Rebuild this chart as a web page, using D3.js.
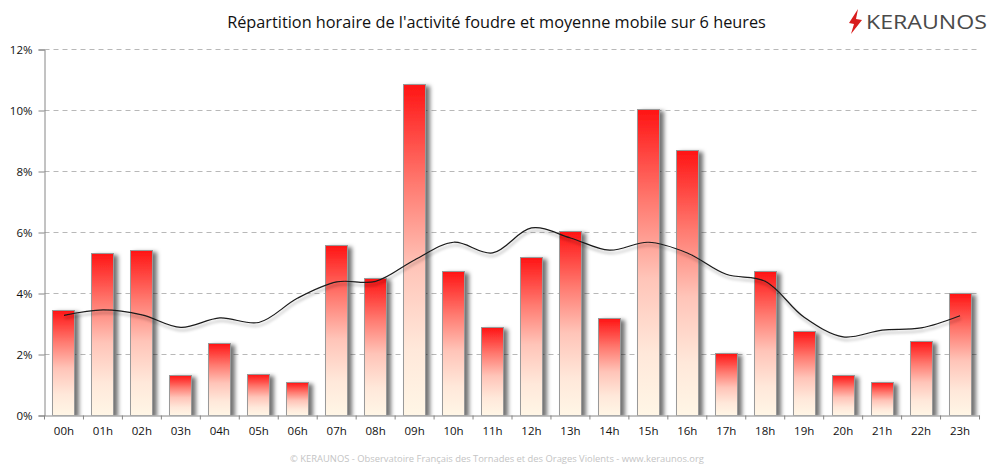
<!DOCTYPE html>
<html>
<head>
<meta charset="utf-8">
<script src="https://cdn.jsdelivr.net/npm/d3@7"></script>
<style>
html,body{margin:0;padding:0;background:#fff;}
svg{display:block;}
text{font-family:"Open Sans",sans-serif;}
</style>
</head>
<body>
<div id="chart"></div>
<script>
var hours=["00h","01h","02h","03h","04h","05h","06h","07h","08h","09h","10h","11h","12h","13h","14h","15h","16h","17h","18h","19h","20h","21h","22h","23h"];
var activity=[3.46,5.33,5.43,1.33,2.38,1.36,1.1,5.59,4.51,10.87,4.74,2.9,5.2,6.05,3.2,10.05,8.7,2.05,4.74,2.77,1.33,1.1,2.44,4.02];
var movingAvg=[3.28,3.46,3.3,2.89,3.2,3.05,3.85,4.38,4.4,5.1,5.68,5.33,6.15,5.82,5.42,5.68,5.33,4.63,4.4,3.22,2.58,2.8,2.87,3.27];
var yTicks=[0,2,4,6,8,10,12];

var width=994,height=471;
var left=44.5,right=979.5,top_=49.5,bottom=415.5;

var svg=d3.select("#chart").append("svg")
	.attr("width",width)
	.attr("height",height);

var defs=svg.append("defs");

var grad=defs.append("linearGradient")
	.attr("id","barGrad")
	.attr("x1",0).attr("y1",0).attr("x2",0).attr("y2",1);
grad.append("stop").attr("offset","0%").attr("stop-color","#ff1414");
grad.append("stop").attr("offset","30%").attr("stop-color","#ff7a70");
grad.append("stop").attr("offset","55%").attr("stop-color","#ffc4b8");
grad.append("stop").attr("offset","80%").attr("stop-color","#ffe8da");
grad.append("stop").attr("offset","100%").attr("stop-color","#fff6e6");

var barShadow=defs.append("filter").attr("id","barShadow")
	.attr("x","-20%").attr("y","-5%").attr("width","160%").attr("height","115%");
barShadow.append("feDropShadow")
	.attr("dx",4).attr("dy",2).attr("stdDeviation",2)
	.attr("flood-color","#000").attr("flood-opacity",0.55);

var lineShadow=defs.append("filter").attr("id","lineShadow")
	.attr("x","-5%").attr("y","-20%").attr("width","110%").attr("height","150%");
lineShadow.append("feDropShadow")
	.attr("dx",1).attr("dy",3).attr("stdDeviation",1.5)
	.attr("flood-color","#000").attr("flood-opacity",0.35);

// the shadows stop at the axis
defs.append("clipPath").attr("id","plotClip")
	.append("rect")
	.attr("x",left).attr("y",0)
	.attr("width",width-left).attr("height",bottom);

var x=d3.scaleBand().domain(hours).range([left,right]);
var y=d3.scaleLinear().domain([0,12]).range([bottom,top_]);

// gridlines
svg.append("g").selectAll("line")
	.data(yTicks.filter(function(d){return d>0;}))
	.enter().append("line")
	.attr("x1",left)
	.attr("x2",right)
	.attr("y1",function(d){return y(d);})
	.attr("y2",function(d){return y(d);})
	.attr("stroke","#b8b8b8")
	.attr("stroke-dasharray","5,4");

// bars
svg.append("g").attr("clip-path","url(#plotClip)").selectAll("rect")
	.data(activity)
	.enter().append("rect")
	.attr("x",function(d,i){return Math.round(x(hours[i])+x.bandwidth()/2-11.5)+0.5;})
	.attr("y",function(d){return Math.round(y(d))+0.5;})
	.attr("width",22)
	.attr("height",function(d){return bottom-Math.round(y(d))-0.5;})
	.attr("fill","url(#barGrad)")
	.attr("stroke","#999")
	.attr("filter","url(#barShadow)");

// axes
var yAxis=d3.axisLeft(y).tickValues(yTicks).tickSize(6).tickPadding(6)
	.tickFormat(function(d){return d+"%";});
var gy=svg.append("g").attr("transform","translate("+left+",0)").call(yAxis);

var xAxis=d3.axisBottom(x).tickSize(0).tickPadding(11);
var gx=svg.append("g").attr("transform","translate(0,"+bottom+")").call(xAxis);
gx.selectAll(".tickmark").data(hours.concat("end")).enter().append("line")
	.attr("class","tickmark")
	.attr("x1",function(d,i){return x.step()*i+left;})
	.attr("x2",function(d,i){return x.step()*i+left;})
	.attr("y1",0).attr("y2",4)
	.attr("stroke","#868686");

[gy,gx].forEach(function(g){
	g.selectAll(".domain").attr("stroke","#868686");
	g.selectAll(".tick line").attr("stroke","#868686");
	g.selectAll("text").attr("font-size",11.5).attr("fill","#111")
		.style("font-family","'Open Sans',sans-serif");
});

// moving average
var line=d3.line()
	.x(function(d,i){return x(hours[i])+x.bandwidth()/2;})
	.y(function(d){return y(d);})
	.curve(d3.curveCatmullRom.alpha(0.5));

svg.append("path")
	.datum(movingAvg)
	.attr("d",line)
	.attr("fill","none")
	.attr("stroke","#1a1a1a")
	.attr("stroke-width",1.2)
	.attr("filter","url(#lineShadow)");

// title
svg.append("text")
	.attr("x",496.5)
	.attr("y",28)
	.attr("text-anchor","middle")
	.attr("font-size",16.3)
	.attr("fill","#111")
	.text("Répartition horaire de l'activité foudre et moyenne mobile sur 6 heures");

// footer
svg.append("text")
	.attr("x",497)
	.attr("y",462)
	.attr("text-anchor","middle")
	.attr("font-size",9.4)
	.attr("fill","#c4c4c4")
	.text("© KERAUNOS - Observatoire Français des Tornades et des Orages Violents - www.keraunos.org");

// logo
var logo=svg.append("g");
logo.append("path")
	.attr("d","M858 9 L849 23 L854 24 L851 34 L862 20 L856 19 Z")
	.attr("fill","#d81c1c");
logo.append("text")
	.attr("x",866)
	.attr("y",29)
	.attr("font-size",20)
	.attr("fill","#4a4a4a")
	.attr("textLength",121)
	.attr("lengthAdjust","spacingAndGlyphs")
	.text("KERAUNOS");
</script>
</body>
</html>
